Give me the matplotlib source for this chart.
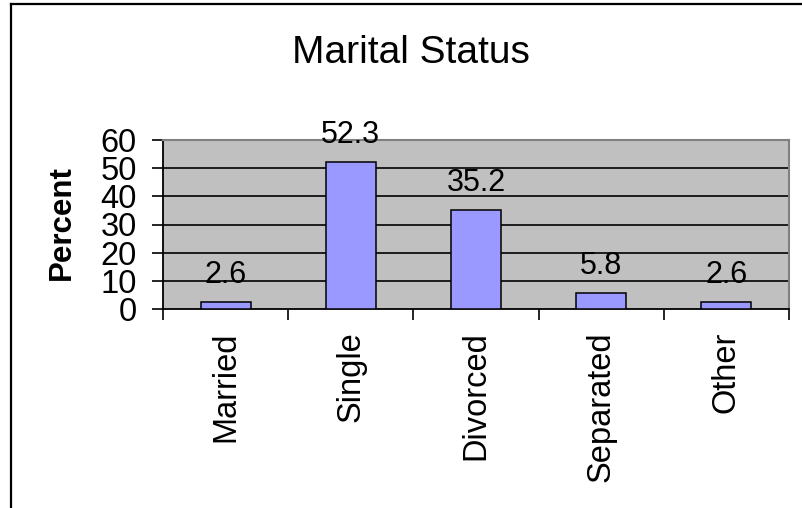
import matplotlib
matplotlib.use('Agg')
import matplotlib.pyplot as plt
import numpy as np
from matplotlib.lines import Line2D

plt.rcParams['font.family'] = ['Liberation Sans', 'DejaVu Sans']

#=======================================================
categories = ['Married', 'Single', 'Divorced', 'Separated', 'Other']
percents = [2.6, 52.3, 35.2, 5.8, 2.6]
yticks = [0, 10, 20, 30, 40, 50, 60]

W, H = 803, 508
fig = plt.figure(figsize=(W / 100, H / 100), dpi=100)
fig.patch.set_facecolor('white')

# plot area in pixels: left 163, right 789, top 140, bottom 309
ax = fig.add_axes([163 / W, 1 - 309 / H, (789 - 163) / W, (309 - 140) / H])
ax.set_facecolor('#C0C0C0')

x = np.arange(1, len(categories) + 1)
ax.set_xlim(0.5, len(categories) + 0.5)
ax.set_ylim(0, 60)

ax.bar(x, percents, width=0.4, color='#9999FF', edgecolor='black', linewidth=1.1, zorder=3)

# gridlines
for v in yticks[1:-1]:
    ax.axhline(v, color='black', lw=1.2, zorder=1)

for xi, v in zip(x, percents):
    ax.annotate(f'{v}', (xi, v), xytext=(0, 13.5), textcoords='offset points',
                ha='center', va='baseline', fontsize=22, zorder=4)

# spines
for s in ['left', 'bottom']:
    ax.spines[s].set_color('black')
    ax.spines[s].set_linewidth(1.3)
for s in ['top', 'right']:
    ax.spines[s].set_color('#808080')
    ax.spines[s].set_linewidth(1.5)

ax.set_yticks(yticks)
ax.set_yticklabels([str(t) for t in yticks], fontsize=23.5)
ax.tick_params(axis='y', direction='out', length=8, width=1.2, pad=11)

ax.set_xticks(x)
ax.set_xticklabels(categories, rotation=90, fontsize=23.5, va='top', ha='center')
ax.set_xticks(np.arange(0.5, len(categories) + 1, 1), minor=True)
ax.tick_params(axis='x', which='major', length=0, pad=16)
ax.tick_params(axis='x', which='minor', direction='out', length=8, width=1.2)

fig.text(62 / W, 1 - 223 / H, 'Percent', rotation=90, fontsize=22.5, fontweight='bold',
         ha='center', va='center')

fig.text(411 / W, 1 - 63 / H, 'Marital Status', fontsize=28, ha='center', va='baseline')

# chart border (left and top)
fig.add_artist(Line2D([11 / W, 11 / W], [0, 1 - 4 / H], color='black', lw=1.6, transform=fig.transFigure))
fig.add_artist(Line2D([11 / W, 1], [1 - 4 / H, 1 - 4 / H], color='black', lw=1.6, transform=fig.transFigure))

fig.savefig('out.png', dpi=100)
